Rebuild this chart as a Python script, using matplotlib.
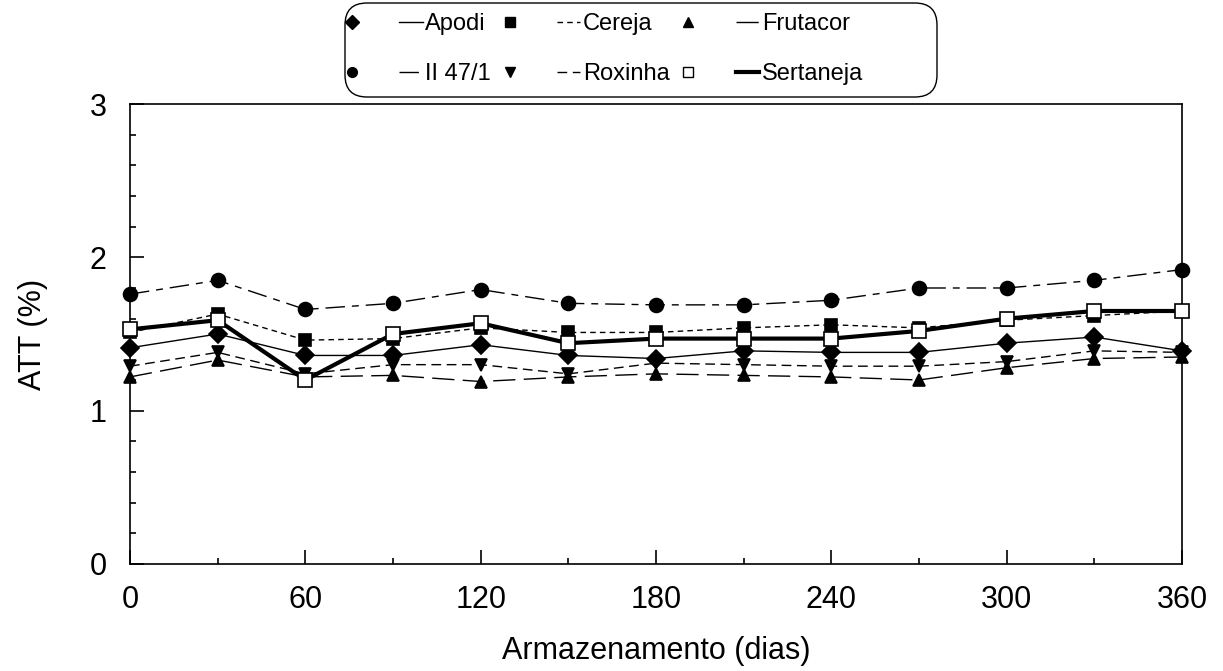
import matplotlib
matplotlib.use("Agg")
import matplotlib.pyplot as plt
from matplotlib.lines import Line2D
from matplotlib.legend_handler import HandlerTuple
from matplotlib.patches import FancyBboxPatch
from matplotlib.ticker import MultipleLocator

plt.rcParams['font.family'] = ['Liberation Sans', 'DejaVu Sans']

# --- dados (ATT % ao longo do armazenamento) ---
dias = [0, 30, 60, 90, 120, 150, 180, 210, 240, 270, 300, 330, 360]

apodi = [1.41, 1.50, 1.36, 1.36, 1.43, 1.36, 1.34, 1.39, 1.38, 1.38, 1.44, 1.48, 1.39]
cereja = [1.51, 1.63, 1.46, 1.47, 1.54, 1.51, 1.51, 1.54, 1.56, 1.54, 1.59, 1.62, 1.65]
frutacor = [1.22, 1.33, 1.22, 1.23, 1.19, 1.22, 1.24, 1.23, 1.22, 1.20, 1.28, 1.34, 1.35]
ii47 = [1.76, 1.85, 1.66, 1.70, 1.79, 1.70, 1.69, 1.69, 1.72, 1.80, 1.80, 1.85, 1.92]
roxinha = [1.29, 1.38, 1.24, 1.30, 1.30, 1.24, 1.31, 1.30, 1.29, 1.29, 1.32, 1.39, 1.38]
sertaneja = [1.53, 1.59, 1.20, 1.50, 1.57, 1.44, 1.47, 1.47, 1.47, 1.52, 1.60, 1.65, 1.65]

nomes = ['Apodi', 'Cereja', 'Frutacor', 'II 47/1', 'Roxinha', 'Sertaneja']
series = [apodi, cereja, frutacor, ii47, roxinha, sertaneja]
marcadores = ['D', 's', '^', 'o', 'v', 's']
estilos = ['-', (0, (4, 3)), (0, (16, 6)), (0, (14, 5, 5, 5)), (0, (7, 4)), '-']
larguras = [1.0, 1.0, 1.0, 1.0, 1.0, 3.0]
preenchido = [True, True, True, True, True, False]
tamanhos = [9, 8, 9, 10, 9, 10]

fig = plt.figure(figsize=(12.23, 6.71), dpi=100)
ax = fig.add_axes([0.1063, 0.1595, 0.8602, 0.6855])

handles = {}
for nome, y, mk, ls, lw, fill, ms in zip(nomes, series, marcadores, estilos,
                                         larguras, preenchido, tamanhos):
    ax.plot(dias, y, color='black', linestyle=ls, linewidth=lw, zorder=2)
    ax.plot(dias, y, linestyle='none', marker=mk, markersize=ms,
            markerfacecolor='black' if fill else 'white',
            markeredgecolor='black', markeredgewidth=1.2, zorder=3,
            clip_on=False)
    h_mk = Line2D([], [], linestyle='none', marker=mk, markersize=7,
                  markerfacecolor='black' if fill else 'white',
                  markeredgecolor='black', markeredgewidth=1.0)
    h_ln = Line2D([], [], color='black', linestyle=ls, linewidth=lw)
    handles[nome] = (h_mk, h_ln)

ax.set_xlim(0, 360)
ax.set_ylim(0, 3)
ax.xaxis.set_major_locator(MultipleLocator(60))
ax.xaxis.set_minor_locator(MultipleLocator(30))
ax.yaxis.set_major_locator(MultipleLocator(1))
ax.yaxis.set_minor_locator(MultipleLocator(0.2))
ax.tick_params(which='both', direction='in', top=False, right=False,
               labelsize=22, width=1.2)
ax.tick_params(which='major', length=10)
ax.tick_params(which='minor', length=4.5)
ax.tick_params(axis='x', which='major', pad=15)
ax.tick_params(axis='y', which='major', pad=17)
for s in ax.spines.values():
    s.set_linewidth(1.2)

ax.set_xlabel('Armazenamento (dias)', fontsize=22, labelpad=15)
ax.set_ylabel('ATT (%)', fontsize=22, labelpad=30)

# ordem por coluna para ncol=3
ordem = ['Apodi', 'II 47/1', 'Cereja', 'Roxinha', 'Frutacor', 'Sertaneja']
leg = fig.legend([handles[n] for n in ordem], ordem, ncol=3,
                 loc='upper left', bbox_to_anchor=(340 / 1223, 1 - 13 / 671),
                 handler_map={tuple: HandlerTuple(ndivide=None, pad=1.5)},
                 handlelength=3.5, handletextpad=0.1, columnspacing=0.3,
                 fontsize=17, frameon=False, borderpad=0, borderaxespad=0,
                 labelspacing=1.2)

# caixa arredondada da legenda (em polegadas)
caixa = FancyBboxPatch((3.45, 6.71 - 0.97), 5.92, 0.94,
                       boxstyle='round,pad=0,rounding_size=0.22',
                       transform=fig.dpi_scale_trans, facecolor='white',
                       edgecolor='black', linewidth=1.0, zorder=0)
fig.patches.append(caixa)

fig.savefig('out.png', dpi=100)
